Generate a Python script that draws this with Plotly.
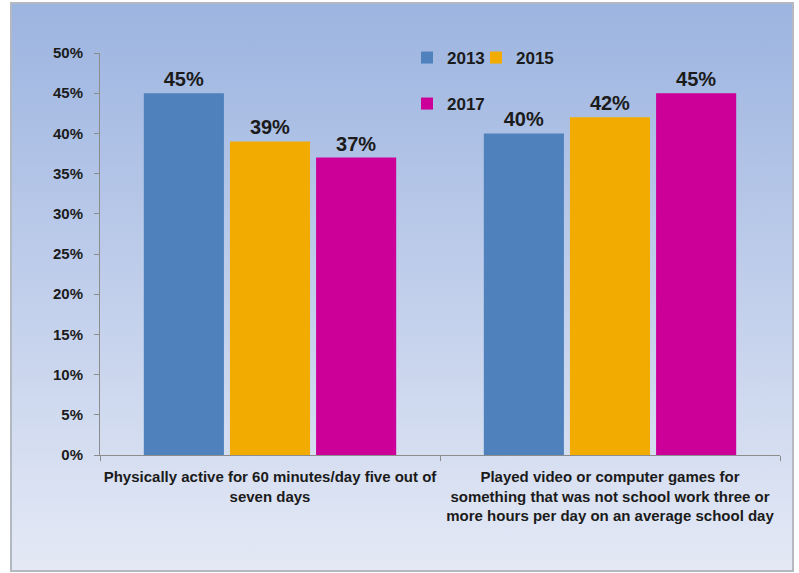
import base64
import plotly.graph_objects as go

# Survey measures, years and results (percent of students)
categories = [
    "Physically active for 60 minutes/day five out of<br>seven days",
    "Played video or computer games for<br>something that was not school work three or<br>more hours per day on an average school day",
]
years = ["2013", "2015", "2017"]
values_2013 = [45, 40]
values_2015 = [39, 42]
values_2017 = [37, 45]
series = [values_2013, values_2015, values_2017]
colors = ["#4F81BD", "#F2AB00", "#CC0099"]

FONT = "Liberation Sans, Arial, sans-serif"
INK = "#1b1b1b"

W, H = 799, 573
ML, MR, MT, MB = 100, 19, 53, 118
PW, PH = W - ML - MR, H - MT - MB


def px_to_paper_x(px):
    return (px - ML) / PW


def px_to_paper_y(py):
    return (H - MB - py) / PH


fig = go.Figure()
legend_for = ["legend", "legend2", "legend3"]
for year, vals, col, lg in zip(years, series, colors, legend_for):
    fig.add_trace(go.Bar(
        x=categories,
        y=vals,
        name=year,
        marker=dict(color=col, line=dict(width=0)),
        text=[f"{v}%" for v in vals],
        textposition="outside",
        cliponaxis=False,
        textfont=dict(family=FONT, size=20, color=INK, weight="bold"),
        legend=lg,
    ))

# soft vertical gradient panel behind the chart
svg = (
    '<svg xmlns="http://www.w3.org/2000/svg" width="100" height="100" '
    'preserveAspectRatio="none"><defs><linearGradient id="g" x1="0" y1="0" '
    'x2="0" y2="1"><stop offset="0" stop-color="#9CB4E0"/>'
    '<stop offset="0.55" stop-color="#C4D1EC"/>'
    '<stop offset="1" stop-color="#E4E9F5"/></linearGradient></defs>'
    '<rect width="100" height="100" fill="url(#g)"/></svg>'
)
src = "data:image/svg+xml;base64," + base64.b64encode(svg.encode()).decode()
fx0, fx1 = px_to_paper_x(11), px_to_paper_x(793)
fy0, fy1 = px_to_paper_y(571), px_to_paper_y(3)
fig.add_layout_image(dict(
    source=src, xref="paper", yref="paper",
    x=fx0, y=fy1, sizex=fx1 - fx0, sizey=fy1 - fy0,
    xanchor="left", yanchor="top", sizing="stretch", layer="below",
))
fig.add_shape(type="rect", xref="paper", yref="paper",
              x0=fx0, x1=fx1, y0=fy0, y1=fy1,
              line=dict(color="#B4B8C0", width=2), fillcolor="rgba(0,0,0,0)",
              layer="below")

legend_font = dict(family=FONT, size=17, color=INK, weight="bold")


def legend_box(px, py):
    return dict(
        orientation="h", x=px_to_paper_x(px), y=px_to_paper_y(py),
        xanchor="left", yanchor="middle", font=legend_font,
        bgcolor="rgba(0,0,0,0)",
    )


fig.update_layout(
    width=W, height=H,
    margin=dict(l=ML, r=MR, t=MT, b=MB, pad=0, autoexpand=False),
    paper_bgcolor="white",
    plot_bgcolor="rgba(0,0,0,0)",
    barmode="group",
    bargap=0.24,
    bargroupgap=0.07,
    showlegend=True,
    legend=legend_box(407, 58),
    legend2=legend_box(476, 58),
    legend3=legend_box(407, 104),
    yaxis=dict(
        range=[0, 50], dtick=5, ticksuffix="%", automargin=False,
        showgrid=False, zeroline=False,
        showline=True, linecolor="#8C8C8C", linewidth=1,
        ticks="outside", ticklen=5, tickcolor="#8C8C8C",
        ticklabelstandoff=8,
        tickfont=dict(family=FONT, size=15, color=INK, weight="bold"),
    ),
    xaxis=dict(
        type="category", automargin=False, tickangle=0,
        showgrid=False, zeroline=False,
        showline=True, linecolor="#8C8C8C", linewidth=1,
        ticks="outside", ticklen=5, tickcolor="#8C8C8C",
        tickson="boundaries", ticklabelstandoff=8,
        tickfont=dict(family=FONT, size=15, color=INK, weight="bold"),
    ),
)

fig.write_html("out.html")
